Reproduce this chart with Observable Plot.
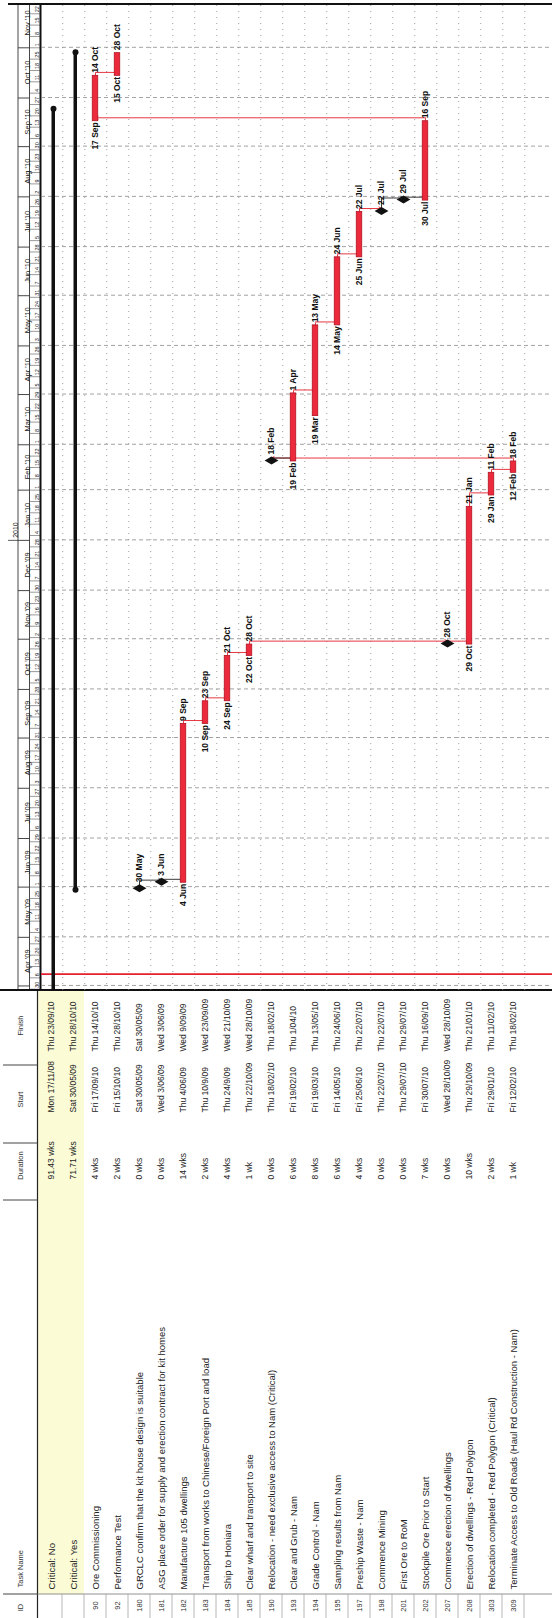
<!DOCTYPE html>
<html>
<head>
<meta charset="utf-8">
<script src="https://cdn.jsdelivr.net/npm/d3@7"></script>
<script src="https://cdn.jsdelivr.net/npm/@observablehq/plot@0.6"></script>
<style>
html, body { margin: 0; padding: 0; background: #fff; }
#wrap { position: relative; width: 552px; height: 1618px; overflow: hidden; background: #fff; }
#chart { position: absolute; left: 0; top: 0; width: 1618px; height: 552px; transform-origin: 0 0; transform: translateY(1618px) rotate(-90deg); }
#chart svg { display: block; }
</style>
</head>
<body>
<div id="wrap"><div id="chart"></div></div>
<script>
// ---------- data ----------
const taskIds = ["", "", "90", "92", "180", "181", "182", "183", "184", "185", "190", "193", "194", "195", "197", "198", "201", "202", "207", "208", "303", "309"];
const taskNames = [
  "Critical: No", "Critical: Yes", "Ore Commissioning", "Performance Test",
  "GRCLC confirm that the kit house design is suitable",
  "ASG place order for supply and erection contract for kit homes",
  "Manufacture 105 dwellings", "Transport from works to Chinese/Foreign Port and load",
  "Ship to Honiara", "Clear wharf and transport to site",
  "Relocation - need exclusive access to Nam (Critical)", "Clear and Grub - Nam",
  "Grade Control - Nam", "Sampling results from Nam", "Preship Waste - Nam",
  "Commence Mining", "First Ore to RoM", "Stockpile Ore Prior to Start",
  "Commence erection of dwellings", "Erection of dwellings - Red Polygon",
  "Relocation completed - Red Polygon (Critical)",
  "Terminate Access to Old Roads (Haul Rd Construction - Nam)"
];
const durations = ["91.43 wks", "71.71 wks", "4 wks", "2 wks", "0 wks", "0 wks", "14 wks", "2 wks", "4 wks", "1 wk", "0 wks", "6 wks", "8 wks", "6 wks", "4 wks", "0 wks", "0 wks", "7 wks", "0 wks", "10 wks", "2 wks", "1 wk"];
const startText = ["Mon 17/11/08", "Sat 30/05/09", "Fri 17/09/10", "Fri 15/10/10", "Sat 30/05/09", "Wed 3/06/09", "Thu 4/06/09", "Thu 10/9/09", "Thu 24/9/09", "Thu 22/10/09", "Thu 18/02/10", "Fri 19/02/10", "Fri 19/03/10", "Fri 14/05/10", "Fri 25/06/10", "Thu 22/07/10", "Thu 29/07/10", "Fri 30/07/10", "Wed 28/10/09", "Thu 29/10/09", "Fri 29/01/10", "Fri 12/02/10"];
const finishText = ["Thu 23/09/10", "Thu 28/10/10", "Thu 14/10/10", "Thu 28/10/10", "Sat 30/05/09", "Wed 3/06/09", "Wed 9/09/09", "Wed 23/09/09", "Wed 21/10/09", "Wed 28/10/09", "Thu 18/02/10", "Thu 1/04/10", "Thu 13/05/10", "Thu 24/06/10", "Thu 22/07/10", "Thu 22/07/10", "Thu 29/07/10", "Thu 16/09/10", "Wed 28/10/09", "Thu 21/01/10", "Thu 11/02/10", "Thu 18/02/10"];
const startDates = ["2008-11-17", "2009-05-30", "2010-09-17", "2010-10-15", "2009-05-30", "2009-06-03", "2009-06-04", "2009-09-10", "2009-09-24", "2009-10-22", "2010-02-18", "2010-02-19", "2010-03-19", "2010-05-14", "2010-06-25", "2010-07-22", "2010-07-29", "2010-07-30", "2009-10-28", "2009-10-29", "2010-01-29", "2010-02-12"];
const finishDates = ["2010-09-23", "2010-10-28", "2010-10-14", "2010-10-28", "2009-05-30", "2009-06-03", "2009-09-09", "2009-09-23", "2009-10-21", "2009-10-28", "2010-02-18", "2010-04-01", "2010-05-13", "2010-06-24", "2010-07-22", "2010-07-22", "2010-07-29", "2010-09-16", "2009-10-28", "2010-01-21", "2010-02-11", "2010-02-18"];
const taskKinds = ["summary", "summary", "task", "task", "milestone", "milestone", "task", "task", "task", "task", "milestone", "task", "task", "task", "task", "milestone", "milestone", "task", "milestone", "task", "task", "task"];
const linkFrom  = ["202", "90", "180", "181", "182", "183", "184", "185", "207", "208", "303", "309", "190", "193", "194", "195", "197", "198", "201"];
const linkTo    = ["90", "92", "181", "182", "183", "184", "185", "207", "208", "303", "309", "190", "193", "194", "195", "197", "198", "201", "202"];
const linkColor = ["red", "red", "black", "black", "red", "red", "red", "red", "red", "red", "red", "red", "black", "red", "red", "red", "red", "black", "black"];
const headerLabels = ["ID", "Task Name", "Duration", "Start", "Finish"];
const yearLabels = ["2010"];
const yearStarts = ["2010-01-01"];
const viewStart = "2009-03-29T12:00Z";
const viewEnd = "2010-11-30T12:00Z";
const statusDate = "2009-04-08";

// ---------- derived ----------
const parse = d3.utcParse("%Y-%m-%d");
const dayFmt = d3.utcFormat("%-d %b");
const monthFmt = d3.utcFormat("%b '%y");
const weekFmt = d3.utcFormat("%-d");
const x0 = new Date(viewStart), x1 = new Date(viewEnd);

const rows = taskIds.map((id, i) => {
  const start = parse(startDates[i]);
  const finish = parse(finishDates[i]);
  const end = d3.utcDay.offset(finish, 1);
  const kind = taskKinds[i];
  return {
    key: "r" + i, i, id, name: taskNames[i], dur: durations[i],
    st: startText[i], ft: finishText[i], start, finish, end, kind,
    at: kind === "milestone" ? end : null
  };
});
const keys = rows.map(r => r.key);
const byId = new Map(rows.filter(r => r.id).map(r => [r.id, r]));
const summaries = rows.filter(r => r.kind === "summary");
const tasks = rows.filter(r => r.kind === "task");
const milestones = rows.filter(r => r.kind === "milestone");
const summaryCaps = [];
summaries.forEach(r => {
  if (r.start >= x0) summaryCaps.push({key: r.key, x: r.start});
  if (r.end <= x1) summaryCaps.push({key: r.key, x: r.end});
});

const links = linkFrom.map((f, i) => {
  const p = byId.get(f), s = byId.get(linkTo[i]);
  const pe = p.kind === "milestone" ? p.at : p.end;
  const ss = s.kind === "milestone" ? s.at : s.start;
  const a = +d3.utcHour.offset(pe, 36), b = +d3.utcHour.offset(ss, 24);
  const vx = new Date(Math.max(a, b));
  return {from: p.key, to: s.key, pe, vx, color: linkColor[i], inset: s.kind === "milestone" ? 5 : 3.5};
});

const months = d3.utcMonth.range(new Date("2009-04-01"), new Date("2010-12-01"));
const mondays = d3.utcMonday.range(new Date("2009-03-30"), new Date("2010-11-29"));
const years = yearLabels.map((l, i) => ({label: l, date: parse(yearStarts[i])}));

const FONT = "'Liberation Sans', Arial, sans-serif";
const TABLE_W = 628;
const RED = "#e3202c";

// background decoration: table grid and header boxes drawn from the scales
function frame(index, scales) {
  const {x, y} = scales;
  const bw = y.bandwidth();
  const g = d3.create("svg:g");
  const line = (a, b, c, d, stroke, w, dash) => {
    const l = g.append("line").attr("x1", a).attr("y1", b).attr("x2", c).attr("y2", d)
      .attr("stroke", stroke).attr("stroke-width", w);
    if (dash) l.attr("stroke-dasharray", dash);
  };
  // yellow group rows
  g.append("rect").attr("x", 24).attr("y", 38).attr("width", TABLE_W - 24)
    .attr("height", y(keys[1]) + bw - 38).attr("fill", "#fbfbd6");
  // table header
  line(0, 37.5, TABLE_W, 37.5, "#222", 1.2);
  [24, 418, 475, 553].forEach(c => line(c, 3, c, 37.5, "#444", 1));
  // ID column
  line(24, 37.5, 24, 552, "#777", 0.8);
  keys.forEach(k => line(0, y(k) + bw, 24, y(k) + bw, "#999", 0.7));
  // gantt header tiers
  const xr = 1614;
  line(TABLE_W, 18, xr, 18, "#333", 0.9);
  line(TABLE_W, 29.5, xr, 29.5, "#333", 0.9);
  months.forEach(m => line(x(m), 18, x(m), 29.5, "#333", 0.9));
  mondays.forEach(m => line(x(m), 29.5, x(m), 40, "#555", 0.6));
  years.forEach(yv => line(x(yv.date), 8, x(yv.date), 18, "#333", 0.8));
  line(TABLE_W, 40.5, xr, 40.5, "#111", 2);
  // borders
  line(TABLE_W, 0, TABLE_W, 552, "#111", 2);
  line(xr, 8, xr, 552, "#111", 1.8);
  return g.node();
}

const tableText = (field, px, size) => Plot.text(rows, {
  y: "key", frameAnchor: "left", dx: px - TABLE_W, text: field, textAnchor: "start",
  fontSize: size, fill: "#222", fontWeight: d => d.kind === "summary" ? "bold" : "normal"
});
const header = (label, px, anchor) => Plot.text([label], {
  frameAnchor: "top-left", dx: px - TABLE_W, dy: -24, text: d => d, textAnchor: anchor,
  fontSize: 7.5, fill: "#333"
});

const chart = Plot.plot({
  width: 1618,
  height: 552,
  marginLeft: TABLE_W,
  marginRight: 0,
  marginTop: 41,
  marginBottom: 0,
  style: {fontFamily: FONT, background: "#fff", overflow: "visible"},
  x: {type: "utc", domain: [x0, x1], axis: null},
  y: {type: "band", domain: keys, range: [34, 529], padding: 0, axis: null},
  marks: [
    frame,
    // gantt gridlines
    Plot.ruleY(rows, {y: "key", dy: 11.25, stroke: "#8a8a8a", strokeWidth: 0.8, strokeDasharray: "1,5"}),
    Plot.ruleX(months, {x: d => d, stroke: "#8a8a8a", strokeWidth: 0.8, strokeDasharray: "4,3"}),
    Plot.ruleX([statusDate], {x: d => parse(d), stroke: RED, strokeWidth: 1.6}),
    // summary bars
    Plot.rect(summaries, {x1: "start", x2: "end", y: "key", insetTop: 11.5, insetBottom: 7, fill: "#111", clip: true}),
    Plot.dot(summaryCaps, {x: "x", y: "key", dy: 2, r: 3, fill: "#111"}),
    // links
    Plot.ruleY(links.filter(d => d.color === "red"), {y: "from", x1: "pe", x2: "vx", stroke: RED, strokeWidth: 0.9}),
    Plot.arrow(links.filter(d => d.color === "red"), {x1: "vx", x2: "vx", y1: "from", y2: "to", insetEnd: d => d.inset, headLength: 5, stroke: RED, strokeWidth: 0.9}),
    Plot.ruleY(links.filter(d => d.color === "black"), {y: "from", x1: "pe", x2: "vx", stroke: "#222", strokeWidth: 0.9}),
    Plot.arrow(links.filter(d => d.color === "black"), {x1: "vx", x2: "vx", y1: "from", y2: "to", insetEnd: d => d.inset, headLength: 5, stroke: "#222", strokeWidth: 0.9}),
    // task bars
    Plot.rect(tasks, {x1: "start", x2: "end", y: "key", insetTop: 8.25, insetBottom: 8.25, fill: "#ec2a3c", stroke: "#b01424", strokeWidth: 0.8}),
    // milestones
    Plot.dot(milestones, {x: "at", y: "key", symbol: "diamond", r: 4.2, fill: "#111"}),
    // date labels
    Plot.text(tasks, {x: "start", y: "key", text: d => dayFmt(d.start), textAnchor: "end", dx: -2, fontSize: 8.5, fontWeight: "bold", fill: "#111"}),
    Plot.text(tasks, {x: "end", y: "key", text: d => dayFmt(d.finish), textAnchor: "start", dx: 2, fontSize: 8.5, fontWeight: "bold", fill: "#111"}),
    Plot.text(milestones, {x: "at", y: "key", text: d => dayFmt(d.finish), textAnchor: "start", dx: 6, fontSize: 8.5, fontWeight: "bold", fill: "#111"}),
    // table
    Plot.text(rows, {y: "key", frameAnchor: "left", dx: 12 - TABLE_W, text: "id", textAnchor: "middle", fontSize: 7.5, fill: "#333"}),
    tableText("name", 28, 9.5),
    tableText("dur", 438, 8.5),
    tableText("st", 505, 8.5),
    tableText("ft", 566, 8.5),
    // headers
    header(headerLabels[0], 10, "middle"),
    header(headerLabels[1], 30, "start"),
    header(headerLabels[2], 452, "middle"),
    header(headerLabels[3], 518, "middle"),
    header(headerLabels[4], 592, "middle"),
    // timescale labels
    Plot.text(years, {x: "date", text: "label", frameAnchor: "top", dy: -28, dx: 2, textAnchor: "start", fontSize: 7, fill: "#222"}),
    Plot.text(months, {x: d => new Date((+d + +d3.utcMonth.offset(d, 1)) / 2), text: d => monthFmt(d), frameAnchor: "top", dy: -17, fontSize: 7.5, fill: "#222"}),
    Plot.text(mondays, {x: d => d, text: d => weekFmt(d), frameAnchor: "top", dy: -6, dx: 1, textAnchor: "start", fontSize: 5.5, fill: "#222"})
  ]
});
document.getElementById("chart").appendChild(chart);
</script>
</body>
</html>
